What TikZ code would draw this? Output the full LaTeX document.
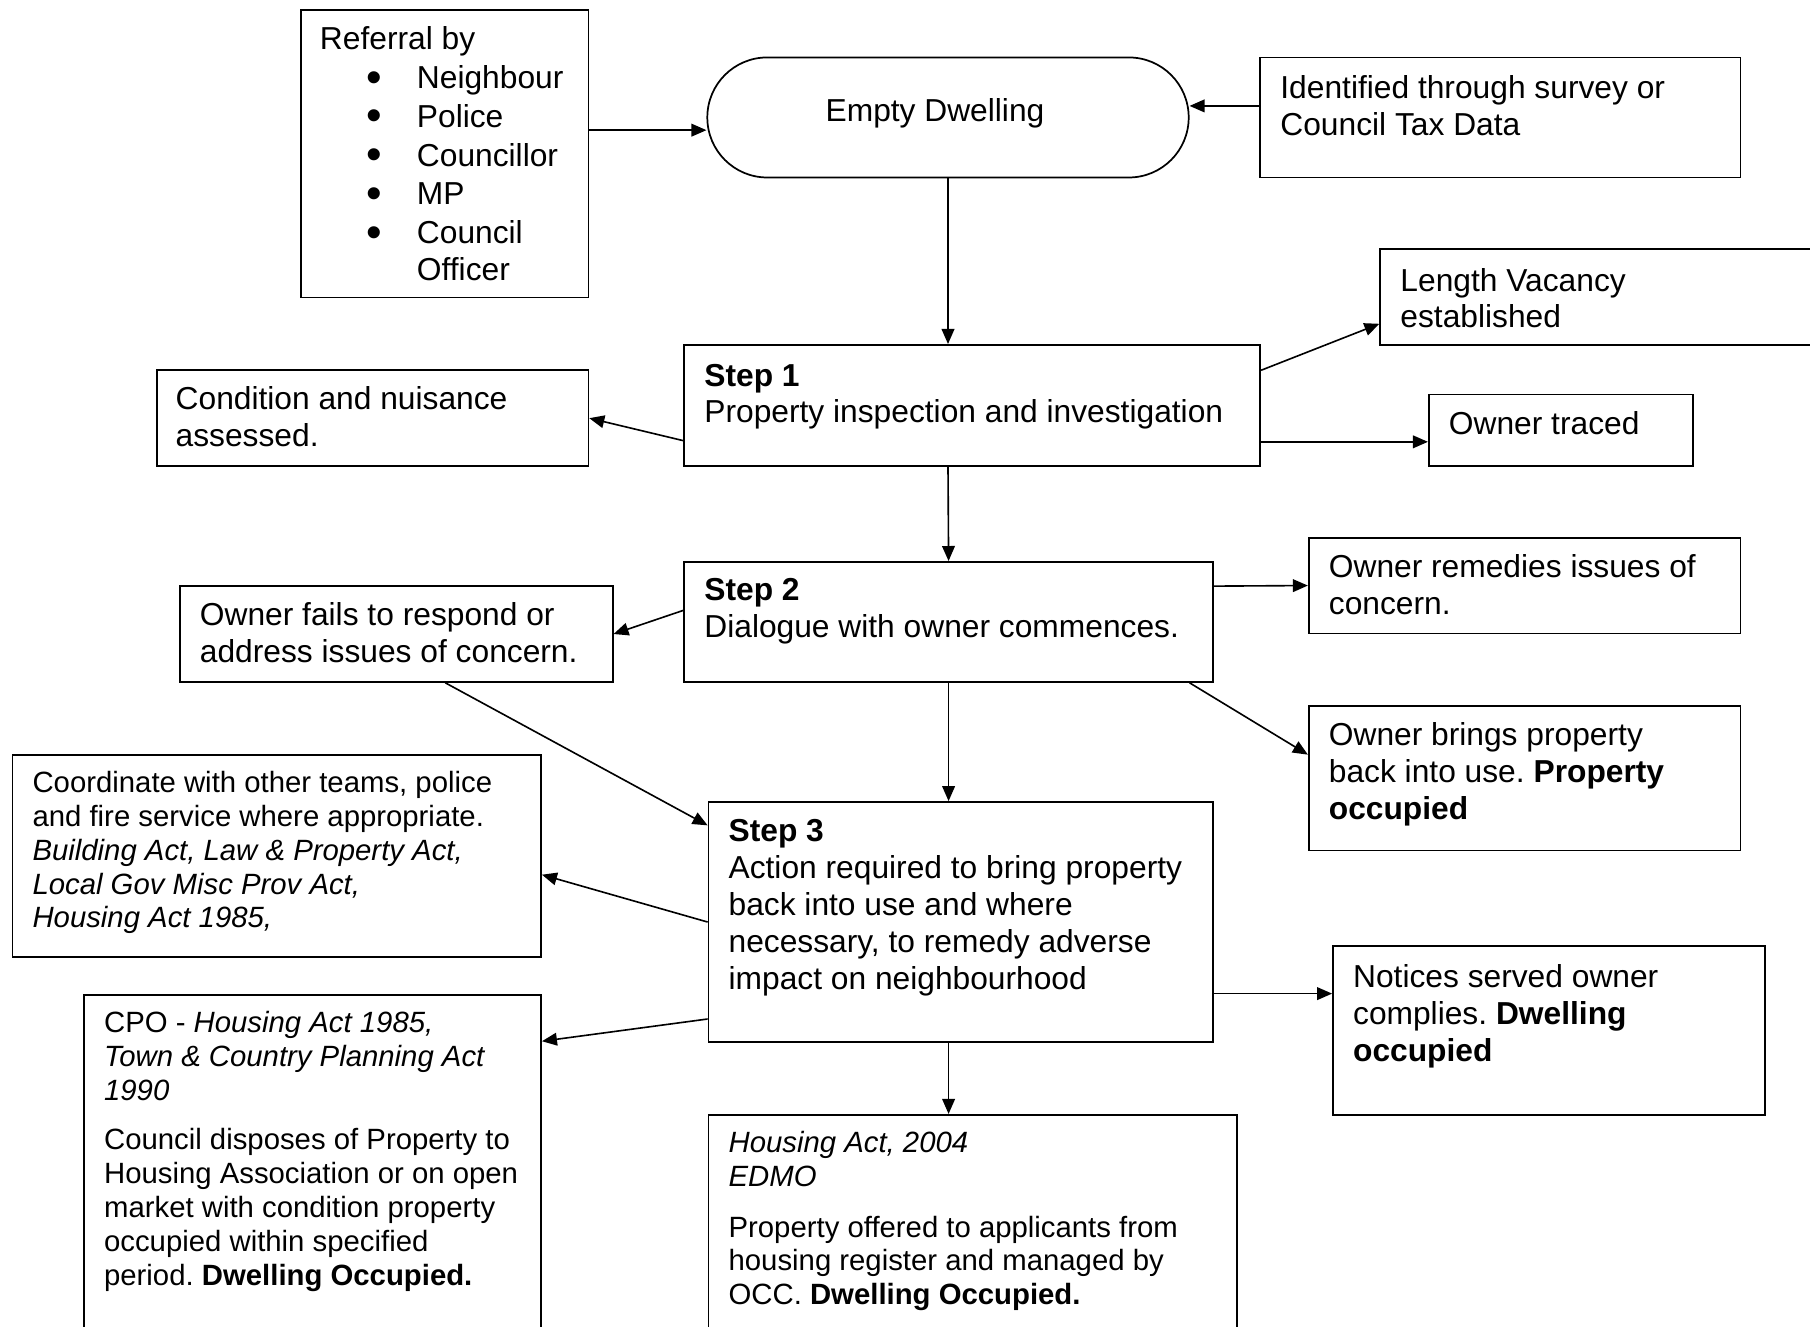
\documentclass[tikz,border=0pt]{standalone}
\usepackage{fontspec}
\usepackage{graphicx}
\setmainfont{Liberation Sans}
\usetikzlibrary{arrows.meta}

\newcommand{\bigbullet}{\smash{\raisebox{-3pt}{\scalebox{1.4}{\textbullet}}}}

\tikzset{
  box/.style={draw, line width=1.5pt, anchor=north west, inner sep=0pt},
  txt/.style={anchor=north west, align=left, inner sep=0pt, font=\fontsize{27.5pt}{32pt}\selectfont\frenchspacing},
  small/.style={font=\fontsize{25.4pt}{29.3pt}\selectfont\frenchspacing},
  arr/.style={line width=1.4pt, -{Triangle[length=13pt, width=11pt]}}
}

\begin{document}
\begin{tikzpicture}[x=1pt, y=-1pt]
    \useasboundingbox (0,0) rectangle (1568,1149);
    \clip (0,0) rectangle (1568,1149);

    % Top row
    \node[box, minimum width=249, minimum height=249] (ref) at (260,8) {};
    \node[txt, font=\fontsize{27.5pt}{33.6pt}\selectfont] (ref-t) at (277,23) {Referral by\\
        \hspace*{40pt}\makebox[44pt][l]{\bigbullet}Neighbour\\
        \hspace*{40pt}\makebox[44pt][l]{\bigbullet}Police\\
        \hspace*{40pt}\makebox[44pt][l]{\bigbullet}Councillor\\
        \hspace*{40pt}\makebox[44pt][l]{\bigbullet}MP\\
        \hspace*{40pt}\makebox[44pt][l]{\bigbullet}Council\\[-1.5pt]
        \hspace*{84pt}Officer};
    \node[box, rounded corners=51.9pt, minimum width=417, minimum height=104] (dwell) at (612,49) {};
    \node[txt, anchor=center] (dwell-t) at (810,98) {Empty Dwelling};
    \node[box, minimum width=416, minimum height=104] (ident) at (1091,49) {};
    \node[txt] (ident-t) at (1109,65) {Identified through survey or\\Council Tax Data};

    % Step 1
    \node[box, minimum width=499, minimum height=105] (step1) at (592,298) {};
    \node[txt] (step1-t) at (610,315) {\textbf{Step 1}\\Property inspection and investigation};
    \node[box, minimum width=420, minimum height=83] (length) at (1195,215) {}; % runs off the page
    \node[txt] (length-t) at (1213,232) {Length Vacancy\\established};
    \node[box, minimum width=374, minimum height=83] (cond) at (135,320) {};
    \node[txt] (cond-t) at (152,335) {Condition and nuisance\\assessed.};
    \node[box, minimum width=229, minimum height=62] (traced) at (1237,341) {};
    \node[txt] (traced-t) at (1255,356) {Owner traced};

    % Step 2
    \node[box, minimum width=458, minimum height=104] (step2) at (592,486) {};
    \node[txt] (step2-t) at (610,501) {\textbf{Step 2}\\Dialogue with owner commences.};
    \node[box, minimum width=375, minimum height=83] (fails) at (155,507) {};
    \node[txt] (fails-t) at (173,522) {Owner fails to respond or\\address issues of concern.};
    \node[box, minimum width=374, minimum height=83] (remedies) at (1133,465) {};
    \node[txt] (remedies-t) at (1151,480) {Owner remedies issues of\\concern.};
    \node[box, minimum width=374, minimum height=125] (brings) at (1133,611) {};
    \node[txt] (brings-t) at (1151,626) {Owner brings property\\back into use. \textbf{Property}\\\textbf{occupied}};

    % Step 3
    \node[box, minimum width=437, minimum height=208] (step3) at (613,694) {};
    \node[txt] (step3-t) at (631,710) {\textbf{Step 3}\\Action required to bring property\\back into use and where\\necessary, to remedy adverse\\impact on neighbourhood};
    \node[box, minimum width=458, minimum height=175] (coord) at (10,653) {};
    \node[txt, small] (coord-t) at (28,668) {Coordinate with other teams, police\\and fire service where appropriate.\\
        \textit{Building Act, Law \& Property Act,}\\\textit{Local Gov Misc Prov Act,}\\\textit{Housing Act 1985,}};
    \node[box, minimum width=396, minimum height=330] (cpo) at (72,861) {}; % runs off the page
    \node[txt, small] (cpo-t) at (90,876) {CPO - \textit{Housing Act 1985,}\\\textit{Town \& Country Planning Act}\\\textit{1990}\\[13.5pt]
        Council disposes of Property to\\Housing Association or on open\\market with condition property\\occupied within specified\\period. \textbf{Dwelling Occupied.}};
    \node[box, minimum width=374, minimum height=146] (notices) at (1154,819) {};
    \node[txt] (notices-t) at (1172,835) {Notices served owner\\complies. \textbf{Dwelling}\\\textbf{occupied}};
    \node[box, minimum width=458, minimum height=230] (edmo) at (613,965) {}; % runs off the page
    \node[txt, small] (edmo-t) at (631,980) {\textit{Housing Act, 2004}\\\textit{EDMO}\\[14.5pt]
        Property offered to applicants from\\housing register and managed by\\OCC. \textbf{Dwelling Occupied.}};

    % Connectors
    \draw[arr] ([yshift=20.5pt]ref.east) -- ([yshift=-11pt]dwell.west);
    \draw[arr] ([yshift=10pt]ident.west) -- ([yshift=10pt]dwell.east);
    \draw[arr] (dwell.south) -- (dwell.south |- step1.north);
    \draw[arr] ([yshift=30.5pt]step1.east) -- ([yshift=19pt]length.south west);
    \draw[arr] ([yshift=-31.5pt]step1.east) -- ([yshift=-10pt]traced.west);
    \draw[arr] ([yshift=-30.5pt]step1.west) -- (cond.east);
    \draw[arr] (dwell.south |- step1.south) -- (step2.north);
    \draw[arr] ([yshift=10pt]step2.west) -- (fails.east);
    \draw[arr] ([yshift=31pt]step2.east) -- (remedies.west);
    \draw[arr] ([xshift=-21pt]step2.south east) -- ([yshift=20.5pt]brings.west);
    \draw[arr] (step2.south) -- (step2.south |- step3.north);
    \draw[arr] ([xshift=42.5pt]fails.south) -- ([yshift=-21pt]step3.north west);
    \draw[arr] (step3.west) -- ([yshift=-16.5pt]coord.east);
    \draw[arr] ([yshift=-84pt]step3.west) -- ([yshift=-41pt]cpo.north east);
    \draw[arr] ([yshift=-62pt]step3.east) -- ([yshift=32pt]notices.west);
    \draw[arr] ([xshift=-10.5pt]step3.south) -- (step2.south |- edmo.north);
\end{tikzpicture}
\end{document}
